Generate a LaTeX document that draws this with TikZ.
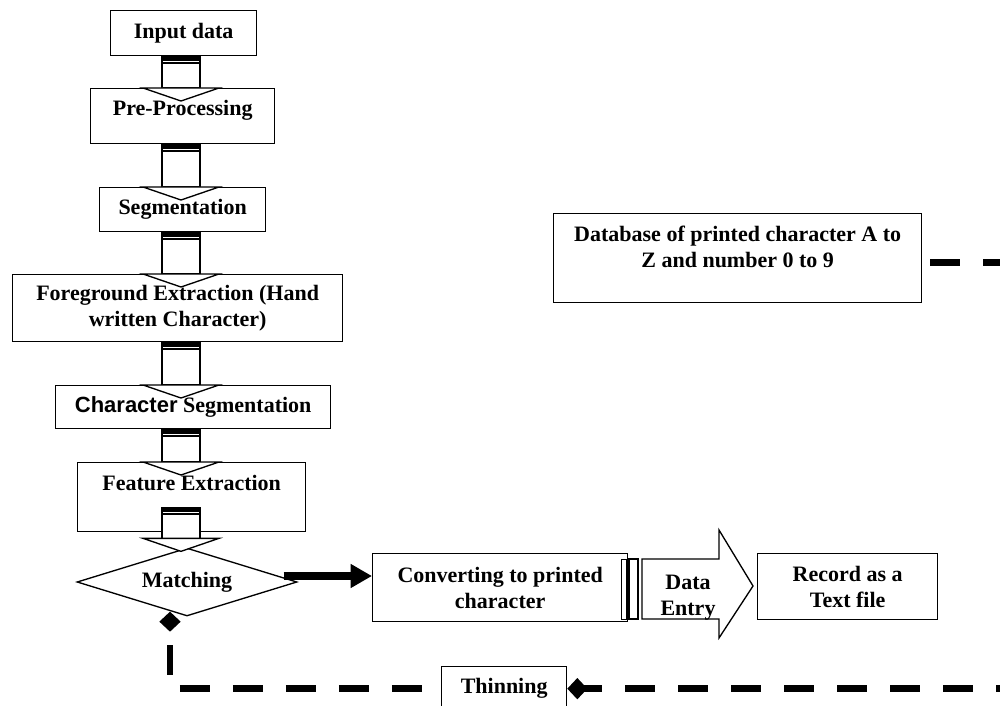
\documentclass[tikz,border=0pt]{standalone}
\usepackage{fontspec}
\setmainfont{Liberation Serif}
\newfontfamily\arialfont{Liberation Sans}
\usetikzlibrary{calc,shapes.geometric,arrows.meta}
\newdimen\px \px=0.75pt

\begin{document}
\begin{tikzpicture}[x=0.75pt,y=0.75pt,yscale=-1,xscale=1,
  every node/.style={font=\fontsize{16.5}{19.5}\selectfont\bfseries},
  box/.style={draw, line width=1pt, inner sep=0pt, align=center, anchor=north west},
  hollow/.style={draw, line width=1pt, fill=white},
  dashline/.style={line width=5pt, dash pattern=on 22.5pt off 17.25pt}]
\useasboundingbox (0,0) rectangle (1000,706);
\clip (0,0) rectangle (1000,706);

%Shape: Rectangle
\node[box, minimum width=146\px, minimum height=45\px] (inp) at (110,10) {Input data};
\node[box, minimum width=184\px, text height=27\px, text depth=28\px] (pre) at (90,88) {Pre-Processing};
\node[box, minimum width=166\px, minimum height=44\px] (seg) at (99,187) {Segmentation};
\node[box, minimum width=330\px, minimum height=67\px] (fg) at (12,274) {Foreground Extraction (Hand\\written Character)};
\node[box, minimum width=275\px, minimum height=43\px] (cseg) at (55,385) {{\arialfont Character} Segmentation};
\node[box, minimum width=228\px, text height=28\px, text depth=41\px] (feat) at (77,462) {Feature Extraction};
%Shape: Diamond
\node[draw, line width=1pt, shape=diamond, aspect=3.2, inner sep=0pt, minimum width=220\px, minimum height=68\px] (match) at (187,582) {Matching};
\node[box, minimum width=255\px, minimum height=68\px] (conv) at (372,553) {Converting to printed\\character};
\node[box, minimum width=180\px, minimum height=66\px] (rec) at (757,553) {Record as a\\Text file};
\node[box, minimum width=368\px, text height=54\px, text depth=35\px] (db) at (553,213) {Database of printed character A to\\Z and number 0 to 9};
\node[box, minimum width=125\px, minimum height=44\px] (thin) at (441,666) {Thinning};

%Block Arrows
\coordinate (spine) at (181,0);
\foreach \a/\b/\ds/\dh in {inp/pre/0/0, pre/seg/0/0, seg/fg/0/0, fg/cseg/0/0, cseg/feat/0/0, feat/match/-25/-9}{
  \coordinate (s) at ($(spine |- \a.south)+(0,\ds)$);
  \coordinate (h) at ($(spine |- \b.north)+(0,\dh)$);
  \draw[hollow] ($(s)+(-19,0)$) rectangle ($(h)+(19,0)$);
  \draw[hollow] ($(h)+(-38,0)$) -- ($(h)+(0,13)$) -- ($(h)+(38,0)$) -- cycle;
  \fill ($(s)+(-19,0)$) rectangle ($(s)+(19,5)$);
  \draw[line width=1.1pt] ($(s)+(-19,6.6)$) -- ($(s)+(19,6.6)$);
}

%Straight Lines
\coordinate (mr) at ($(match.east)+(-14,-6)$);
\draw[line width=6pt, -{Triangle[length=16pt,width=17pt]}] (mr) -- (mr -| conv.west);

%Shape: Right Arrow
\draw[line width=0.7pt] (621.5,559) rectangle (626,619);
\draw[line width=0.8pt] (629,559) rectangle (638,619);
\draw[line width=1pt] (642,559) -- (719,559) -- (719,530) -- (753,586) -- (719,638) -- (719,619) -- (642,619) -- cycle;
\begin{scope}
\clip (642,559) rectangle (719,619);
\node[align=center] (entry) at (688,598) {Data\\Entry};
\end{scope}

%Dashed Connectors
\coordinate (mq) at ($(match.south)+(-17,-5)$);
\draw[dashline, dash phase=26pt, {Diamond[length=15pt,width=16pt]}-] (mq) |- (thin.west);
\coordinate (dbr) at ($(db.east)+(8,4.5)$);
\coordinate (rr) at (1030,0);
\draw[dashline, -{Diamond[length=15pt,width=16pt]}] (dbr) -- (dbr -| rr) |- (thin.east);

\end{tikzpicture}
\end{document}
